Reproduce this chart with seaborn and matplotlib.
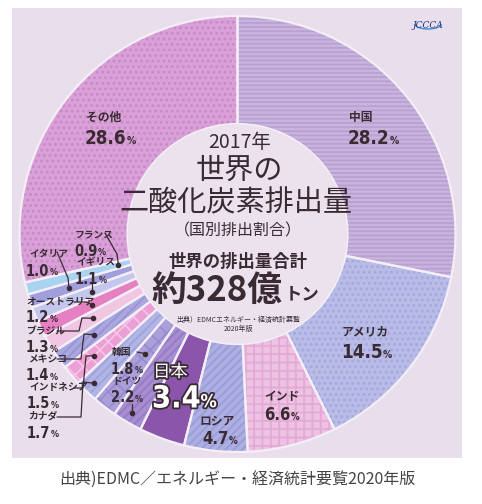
import numpy as np
import matplotlib.pyplot as plt
import matplotlib.patheffects as pe
from matplotlib.patches import Rectangle, Circle, Arc
import seaborn as sns

# ------ Data ------
countries = ['中国', 'アメリカ', 'インド', 'ロシア', '日本', 'ドイツ', '韓国', 'カナダ',
             'インドネシア', 'メキシコ', 'ブラジル', 'オーストラリア', 'イギリス',
             'イタリア', 'フランス', 'その他']
shares = [28.2, 14.5, 6.6, 4.7, 3.4, 2.2, 1.8, 1.7, 1.5, 1.4, 1.3, 1.2, 1.1, 1.0, 0.9, 28.6]

base_colors = ['#c9b4dd', '#b8bce6', '#edc2e2', '#adafe2', '#8a55aa', '#a68ed0', '#ab9fd9',
               '#b1b5e5', '#eb9fd4', '#aaa7df', '#f0c6e3', '#e581c2', '#c3c6ed', '#a09fdb',
               '#a9d3f0', '#d9a1d7']
hatches = ['----', '...', '++', '////', None, '////', 'xx', '////', 'xx', '////',
           None, None, None, None, None, '...']
hatch_colors = ['#b8a1d2', '#a4a9de', '#e3a9d7', '#9a9cd8', None, '#957bc5', '#978ccf',
                '#9ea3dc', '#f5c3e6', '#9794d6', None, None, None, None, None, '#c98ac8']

title_lines = ['2017年', '世界の', '二酸化炭素排出量', '（国別排出割合）']
total_title = '世界の排出量合計'
total_value = '約328億'
total_unit = 'トン'
inner_source = ['出典）EDMCエネルギー・経済統計要覧', '2020年版']
caption = '出典)EDMC／エネルギー・経済統計要覧2020年版'

# label layout (pixel positions, y downward): name xy, number xy, size class
label_pos = {
    '中国': ((349, 117), (348, 138), 'L'),
    'アメリカ': ((342, 332), (341, 352), 'L'),
    'インド': ((264, 397), (264, 415), 'M'),
    'ロシア': ((200, 421), (202, 439), 'M'),
    'ドイツ': ((112, 381), (111, 398), 'S'),
    '韓国': ((112, 352), (111, 369), 'S'),
    'カナダ': ((28, 416), (27, 433), 'S'),
    'インドネシア': ((29, 387), (27, 404), 'S'),
    'メキシコ': ((28, 359), (26, 376), 'S'),
    'ブラジル': ((27, 331), (26, 348), 'S'),
    'オーストラリア': ((26, 301), (26, 318), 'S'),
    'イギリス': ((76, 262), (75, 279), 'S'),
    'イタリア': ((29, 254), (26, 271), 'S'),
    'フランス': ((75, 234), (74, 251), 'S'),
    'その他': ((86, 117), (85, 138), 'L'),
}
# leader lines: start points / elbows, dot radius on the wedge mid-angle
leaders = {
    'フランス': ([(105, 233), (117, 254)], 123),
    'イタリア': ([(57, 252), (68, 278)], 177),
    'イギリス': ([], 157),
    'オーストラリア': ([(74, 302), (86, 302)], 162),
    'ブラジル': ([(57, 331), (79, 331), (82, 318)], 167),
    'メキシコ': ([(57, 359), (81, 359), (84, 334)], 175),
    'インドネシア': ([(74, 388), (83, 388), (86, 356)], 188),
    'カナダ': ([(57, 417), (81, 417), (83, 382)], 207),
    '韓国': ([(137, 352)], 151),
    'ドイツ': ([], 208),
}

# ------ Style ------
sns.set_theme(style='white')
plt.rcParams['font.family'] = ['Noto Sans CJK JP', 'DejaVu Sans']
plt.rcParams['hatch.linewidth'] = 1.3

W, H = 482, 504
cx, cy = 237.5, 234
R, r_in = 218, 110
txt = '#3a2b33'
panel = '#e9dfec'
num_font = dict(family='DejaVu Sans', fontweight='bold', fontstretch='condensed')

fig = plt.figure(figsize=(4.82, 5.04), dpi=100, facecolor='white')
ax = fig.add_axes([0, 0, 1, 1])

ax.add_patch(Rectangle((12, 8), 450, 450, facecolor=panel, edgecolor='none', zorder=0))

# ------ Donut (y axis inverted: counterclock in data = clockwise on screen) ------
common = dict(radius=R, center=(cx, cy), startangle=-90, counterclock=True, frame=False)
wedges, _ = ax.pie(shares, colors=base_colors,
                   wedgeprops=dict(width=R - r_in, linewidth=0, zorder=1), **common)
overlay, _ = ax.pie(shares, colors=['none'] * len(shares),
                    wedgeprops=dict(width=R - r_in, linewidth=0, zorder=2), **common)
for w, h, hc in zip(overlay, hatches, hatch_colors):
    if h:
        w.set_hatch(h)
        w.set_edgecolor(hc)
        w.set_linewidth(0)
ax.pie(shares, colors=['none'] * len(shares),
       wedgeprops=dict(width=R - r_in, linewidth=1.6, edgecolor='#f4eef6', zorder=3), **common)

ax.add_patch(Circle((cx, cy), r_in - 0.5, facecolor='#ebe2ee', edgecolor='none', zorder=3))

ax.set_xlim(0, W)
ax.set_ylim(H, 0)
ax.set_aspect('equal')
ax.axis('off')


def pct_label(name, npos, size):
    nsize = {'L': 13.5, 'M': 12, 'S': 10.5}[size]
    psize = {'L': 7.5, 'M': 7, 'S': 6.5}[size]
    idx = countries.index(name)
    t = ax.text(npos[0], npos[1], f'{shares[idx]:.1f}', fontsize=nsize, color=txt,
                ha='left', va='center', zorder=6, **num_font)
    ax.annotate('%', xy=(1.0, 0.1), xycoords=t, xytext=(0, 0), textcoords='offset points',
                fontsize=psize, color=txt, ha='left', va='bottom', zorder=6, **num_font)


for name, (tpos, npos, size) in label_pos.items():
    fsize = {'L': 8.5, 'M': 8.5, 'S': 7}[size]
    ax.text(tpos[0], tpos[1], name, fontsize=fsize, fontweight='bold', color=txt,
            ha='left', va='center', zorder=6)
    pct_label(name, npos, size)

# Japan label in white with outline
jp = countries.index('日本')
outline = [pe.withStroke(linewidth=2.6, foreground='#3a2b33')]
ax.text(153, 372, '日本', fontsize=12.5, color='white', ha='left', va='center',
        path_effects=outline, zorder=6)
t = ax.text(152, 399, f'{shares[jp]:.1f}', fontsize=22, color='white',
            ha='left', va='center', path_effects=outline, zorder=6, **num_font)
ax.annotate('%', xy=(1.0, 0.08), xycoords=t, xytext=(0, 0), textcoords='offset points',
            fontsize=13, color='white', ha='left', va='bottom', path_effects=outline,
            zorder=6, **num_font)

# leader lines with dots on the wedge mid-angles
for name, (pts, rad) in leaders.items():
    w = wedges[countries.index(name)]
    ang = np.deg2rad((w.theta1 + w.theta2) / 2)
    dot = (cx + rad * np.cos(ang), cy + rad * np.sin(ang))
    if not pts:
        pts = [(dot[0], dot[1] - 9)]
    xs = [p[0] for p in pts] + [dot[0]]
    ys = [p[1] for p in pts] + [dot[1]]
    ax.plot(xs, ys, color=txt, lw=0.9, zorder=6)
    ax.plot(dot[0], dot[1], 'o', ms=3, color=txt, zorder=6)

# ------ Centre texts ------
ax.text(240, 143, title_lines[0], fontsize=14, color=txt, ha='center', va='center', zorder=6)
ax.text(239, 171, title_lines[1], fontsize=21, color=txt, ha='center', va='center', zorder=6)
ax.text(236, 203, title_lines[2], fontsize=21, color=txt, ha='center', va='center', zorder=6)
ax.text(238, 231, title_lines[3], fontsize=11.5, color=txt, ha='center', va='center', zorder=6)
ax.text(238, 262, total_title, fontsize=12.5, fontweight='bold', color=txt,
        ha='center', va='center', zorder=6)
tv = ax.text(151, 290, total_value, fontsize=25, fontweight='bold', color=txt,
             ha='left', va='center', zorder=6)
ax.annotate(total_unit, xy=(1.02, 0.12), xycoords=tv, fontsize=12.5, fontweight='bold',
            color=txt, ha='left', va='bottom', zorder=6)
ax.text(238, 320, inner_source[0], fontsize=5, color=txt, ha='center', va='center', zorder=6)
ax.text(238, 329, inner_source[1], fontsize=5, color=txt, ha='center', va='center', zorder=6)

# logo
ax.add_patch(Arc((428, 24), 26, 10, theta1=0, theta2=180, color='#3b8fd0', lw=1, zorder=6))
ax.text(428, 26, 'JCCCA', fontsize=6.5, color='#23357a', style='italic',
        ha='center', va='center', family='DejaVu Serif', zorder=7)

# caption
ax.text(237, 480, caption, fontsize=11.5, color='#444444', ha='center', va='center')

fig.savefig('out.png', dpi=100, facecolor='white')
